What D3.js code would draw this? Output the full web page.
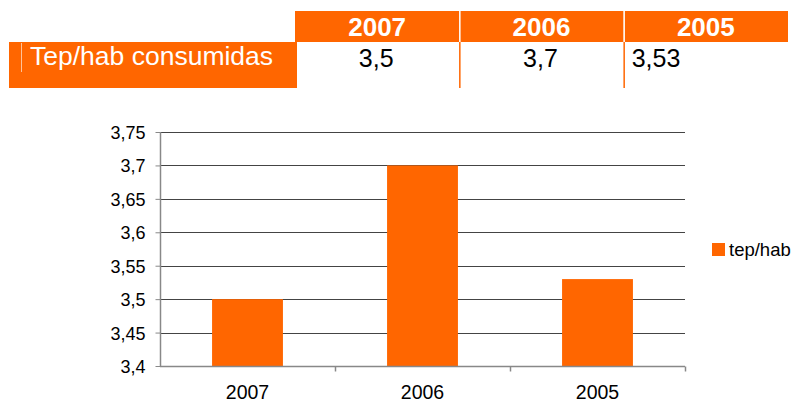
<!DOCTYPE html>
<html>
<head>
<meta charset="utf-8">
<script src="https://cdn.jsdelivr.net/npm/d3@7"></script>
<style>
body{margin:0;background:#fff;}
svg{display:block;font-family:"Liberation Sans",Arial,sans-serif;}
</style>
</head>
<body>
<svg id="chart" width="798" height="403"></svg>
<script>
// datos
var years=["2007","2006","2005"];
var tepHab=[3.5,3.7,3.53];
var tableValues=["3,5","3,7","3,53"];
var rowLabel="Tep/hab consumidas";
var seriesName="tep/hab";
var yTicks=[3.4,3.45,3.5,3.55,3.6,3.65,3.7,3.75];

var orange="#FF6600";
var font="Liberation Sans, Arial, sans-serif";
var svg=d3.select("#chart");

/*
 * tabla de arriba
 */
var colX=d3.scaleBand().domain(years).range([295,788]);
var head=svg.append("g");
head.selectAll("rect").data(years).enter().append("rect")
	.attr("x",function(d){return colX(d);}).attr("y",11)
	.attr("width",colX.bandwidth()).attr("height",31).attr("fill",orange);
head.selectAll("line").data(years.slice(1)).enter().append("line")
	.attr("x1",function(d){return colX(d)+0.5;}).attr("x2",function(d){return colX(d)+0.5;})
	.attr("y1",11).attr("y2",42).attr("stroke","#fff").attr("stroke-width",1.5);
head.selectAll("text").data(years).enter().append("text")
	.attr("x",function(d){return colX(d)+colX.bandwidth()/2;}).attr("y",36)
	.attr("text-anchor","middle").attr("fill","#fff").attr("font-weight","bold").attr("font-size",26)
	.text(function(d){return d;});

svg.append("rect").attr("x",9).attr("y",42).attr("width",288).attr("height",46).attr("fill",orange);
svg.append("line").attr("x1",21.5).attr("x2",21.5).attr("y1",43).attr("y2",72).attr("stroke","#fff").attr("stroke-opacity",0.6);
svg.append("text").attr("x",30).attr("y",65).attr("fill","#fff").attr("font-size",26.5).text(rowLabel);

svg.selectAll(".sep").data(years.slice(1)).enter().append("line").attr("class","sep")
	.attr("x1",function(d){return colX(d)+0.5;}).attr("x2",function(d){return colX(d)+0.5;})
	.attr("y1",42).attr("y2",88).attr("stroke",orange).attr("stroke-width",1.5);
svg.selectAll(".val").data(tableValues).enter().append("text").attr("class","val")
	.attr("x",function(d,i){return i<2?colX(years[i])+colX.bandwidth()/2-1:colX(years[i])+8;})
	.attr("y",66.5).attr("text-anchor",function(d,i){return i<2?"middle":"start";})
	.attr("font-size",25).attr("fill","#000").text(function(d){return d;});

/*
 * grafico de barras
 */
var x=d3.scaleBand().domain(years).range([160,685]).paddingInner(0.595).paddingOuter(0.2975);
var xb=d3.scaleBand().domain(years).range([160,685]);
var y=d3.scaleLinear().domain([3.4,3.75]).range([366,132]);
var fmt=function(d){return d3.format(".2~f")(d).replace(".",",");};

var grid=svg.append("g");
grid.selectAll("line").data(yTicks.slice(1)).enter().append("line")
	.attr("x1",160).attr("x2",685)
	.attr("y1",function(d){return Math.round(y(d))+0.5;}).attr("y2",function(d){return Math.round(y(d))+0.5;})
	.attr("stroke","#444").attr("stroke-width",1);

svg.selectAll(".bar").data(tepHab).enter().append("rect").attr("class","bar")
	.attr("x",function(d,i){return x(years[i]);}).attr("width",x.bandwidth())
	.attr("y",function(d){return y(d);}).attr("height",function(d){return y(3.4)-y(d);})
	.attr("fill",orange);

var yAxis=svg.append("g").attr("transform","translate(160.5,0)")
	.call(d3.axisLeft(y).tickValues(yTicks).tickFormat(fmt).tickSize(5).tickPadding(10));
yAxis.attr("font-size",18).attr("font-family",font);
yAxis.selectAll("text").attr("fill","#000").attr("font-size",18).attr("dy","0.36em");
yAxis.selectAll("line").attr("stroke","#888");
yAxis.select(".domain").attr("stroke","#888").attr("stroke-width",1.5).attr("d","M0,"+y(3.75)+"V"+y(3.4));

var xAxis=svg.append("g").attr("transform","translate(0,366.5)");
xAxis.append("line").attr("x1",160).attr("x2",685).attr("stroke","#888").attr("stroke-width",1.5);
xAxis.selectAll(".tk").data(years.slice(1).concat(["end"])).enter().append("line").attr("class","tk")
	.attr("x1",function(d,i){return i<2?xb(d)+0.5:685.5;}).attr("x2",function(d,i){return i<2?xb(d)+0.5:685.5;})
	.attr("y1",0).attr("y2",5).attr("stroke","#888").attr("stroke-width",1.5);
xAxis.selectAll("text").data(years).enter().append("text")
	.attr("x",function(d){return xb(d)+xb.bandwidth()/2;}).attr("y",32.5)
	.attr("text-anchor","middle").attr("font-size",19.5).attr("fill","#000").text(function(d){return d;});

// leyenda
svg.append("rect").attr("x",712).attr("y",243).attr("width",13).attr("height",13).attr("fill",orange);
svg.append("text").attr("x",729).attr("y",256).attr("font-size",18.5).attr("fill","#000").text(seriesName);
</script>
</body>
</html>
